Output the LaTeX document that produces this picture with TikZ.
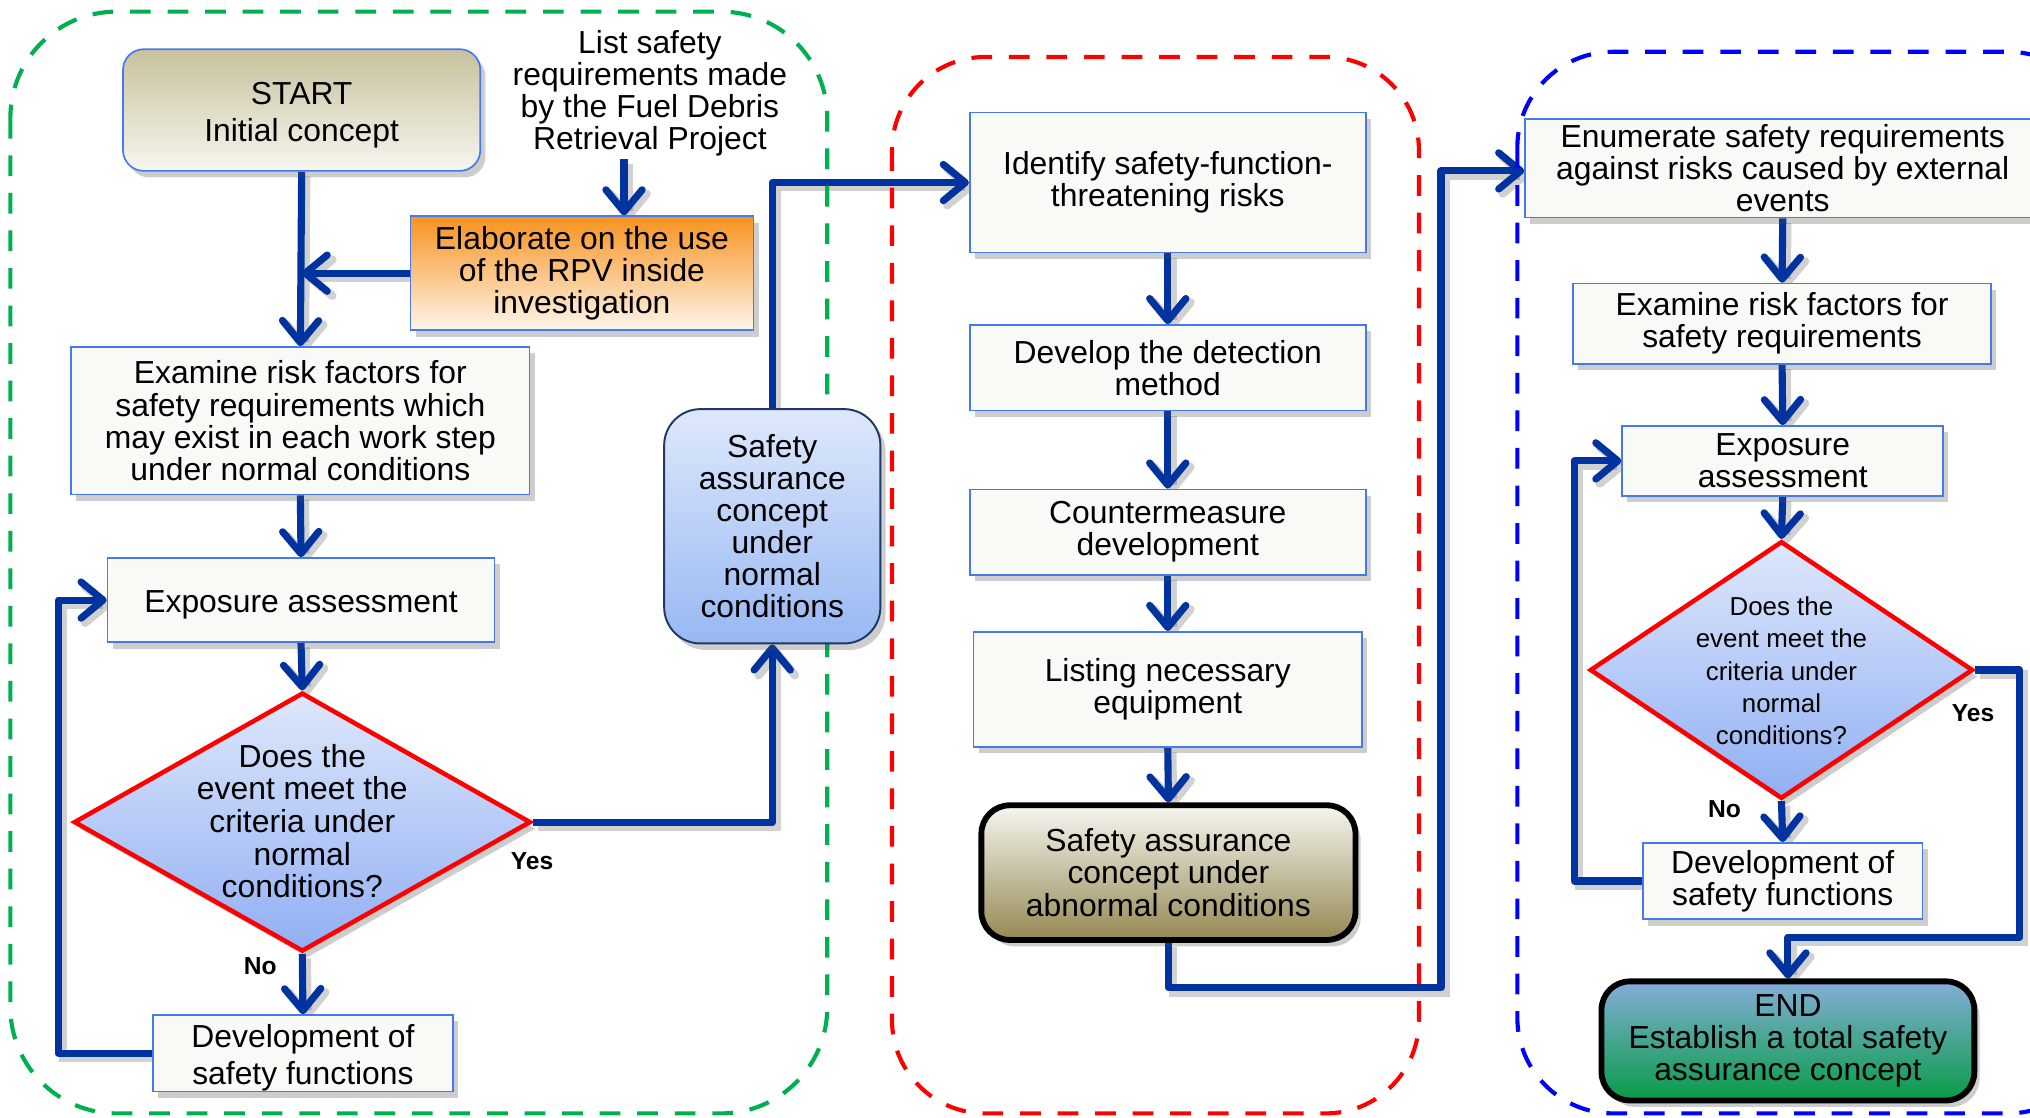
\documentclass[tikz,border=0pt]{standalone}
\usepackage{fontspec}
\setmainfont{Liberation Sans}
\usetikzlibrary{arrows.meta,shapes.geometric,shadows,calc}

\definecolor{flow}{RGB}{0,51,160}
\definecolor{edge}{RGB}{70,120,240}
\definecolor{paper}{RGB}{249,249,246}
\definecolor{tanTop}{RGB}{199,193,157}
\definecolor{tanBot}{RGB}{247,246,240}
\definecolor{orTop}{RGB}{247,146,30}
\definecolor{orBot}{RGB}{255,246,236}
\definecolor{skyTop}{RGB}{222,232,251}
\definecolor{skyBot}{RGB}{152,184,243}
\definecolor{navy}{RGB}{31,56,100}
\definecolor{oliveTop}{RGB}{246,246,241}
\definecolor{oliveBot}{RGB}{148,136,82}
\definecolor{endTop}{RGB}{132,174,217}
\definecolor{endBot}{RGB}{8,155,70}
\definecolor{zgreen}{RGB}{0,176,80}
\definecolor{zred}{RGB}{255,0,0}
\definecolor{zblue}{RGB}{0,0,255}

\pgfdeclarelayer{canvas}
\pgfdeclarelayer{links}
\pgfdeclarelayer{zones}
\pgfsetlayers{canvas,links,zones,main}

% centred text block of zero size, lowered by #1
\newcommand\diatext[2]{\smash{\makebox[0pt]{\raisebox{#1}{\begin{tabular}{@{}c@{}}#2\end{tabular}}}}}
% a line lowered by #1 that keeps its natural height and depth
\newcommand\low[2]{\raisebox{#1}[\height][\depth]{#2}}

\tikzset{
  zone/.style={line width=3.2pt, dash pattern=on 16pt off 13pt},
  base/.style={font=\fontsize{24.6pt}{24.8pt}\selectfont, align=center, inner sep=0pt},
  shadowed/.style={drop shadow={shadow xshift=4pt, shadow yshift=-5pt, opacity=0.28, fill=black!70}},
  plainbox/.style={base, shadowed, rectangle, draw=edge, line width=1.3pt, fill=paper},
  startbox/.style={base, shadowed, rectangle, rounded corners=16pt, draw=edge, line width=1.3pt, top color=tanTop, bottom color=tanBot},
  orangebox/.style={base, shadowed, rectangle, draw=edge, line width=1.3pt, top color=orTop, bottom color=orBot},
  normalbox/.style={base, shadowed, rectangle, rounded corners=28pt, draw=navy, line width=1.5pt, top color=skyTop, bottom color=skyBot},
  dia/.style={base, shadowed, diamond, draw=zred, line width=3.5pt, top color=skyTop, bottom color=skyBot!95!blue},
  olivebox/.style={base, shadowed, rectangle, rounded corners=22pt, draw=black, line width=4.5pt, top color=oliveTop, bottom color=oliveBot},
  endbox/.style={base, shadowed, rectangle, rounded corners=22pt, draw=black, line width=4.5pt, top color=endTop, bottom color=endBot},
  lab/.style={font=\bfseries\fontsize{19pt}{20pt}\selectfont, inner sep=0pt},
  conn/.style={draw=flow, line width=5.5pt, line join=round,
    -{Straight Barb[length=17pt,width=28pt,round]},
    preaction={draw=black, opacity=0.18, line width=6.5pt, transform canvas={shift={(3.5pt,-3.5pt)}}}},
}

\begin{document}
\begin{tikzpicture}[x=1pt,y=-1pt]
\useasboundingbox (0,0) rectangle (1568,863);
\clip (0,0) rectangle (1568,863);
\begin{pgfonlayer}{canvas}
  \fill[white] (0,0) rectangle (1568,863);
\end{pgfonlayer}

% ---------- normal conditions ----------
\node[startbox, minimum width=276pt, minimum height=94pt] (start) at (233,85) {\low{-4pt}{START}\\[4pt]\low{-4pt}{Initial concept}};
\node[base, inner sep=2pt] (req) at (502,72) {List safety\\requirements made\\by the Fuel Debris\\Retrieval Project};
\node[orangebox, minimum width=265pt, minimum height=88pt] (elab) at (449.5,211) {Elaborate on the use\\of the RPV inside\\investigation};
\node[plainbox, minimum width=354pt, minimum height=114pt] (examL) at (232,325) {Examine risk factors for\\safety requirements which\\may exist in each work step\\under normal conditions};
\node[plainbox, minimum width=299pt, minimum height=65pt] (expoL) at (232.5,463.5) {\low{-4pt}{Exposure assessment}};
\node[dia, minimum width=353pt, minimum height=200pt] (diaL) at (233.5,635) {\diatext{-9pt}{Does the\\event meet the\\criteria under\\normal\\conditions?}};
\node[plainbox, minimum width=232pt, minimum height=59pt] (devL) at (234,813.5) {\low{-3.5pt}{Development of}\\[4pt]\low{-3.5pt}{safety functions}};
\node[normalbox, minimum width=167pt, minimum height=181pt] (safeN) at (596.5,406.5) {Safety\\assurance\\concept\\under\\normal\\conditions};
\node[lab] (yesL) at (411,665) {Yes};
\node[lab] (noL) at (201,746) {No};

% ---------- abnormal conditions ----------
\node[plainbox, minimum width=306pt, minimum height=108pt] (ident) at (902,141) {Identify safety-function-\\threatening risks};
\node[plainbox, minimum width=306pt, minimum height=66pt] (detect) at (902,284) {Develop the detection\\method};
\node[plainbox, minimum width=306pt, minimum height=66pt] (counter) at (902,411) {Countermeasure\\development};
\node[plainbox, minimum width=300pt, minimum height=89pt] (equip) at (902,532.5) {Listing necessary\\equipment};
\node[olivebox, minimum width=289pt, minimum height=104pt] (abn) at (902.5,674) {Safety assurance\\concept under\\abnormal conditions};

% ---------- external events ----------
\node[plainbox, minimum width=398pt, minimum height=76pt] (enum) at (1377,130) {Enumerate safety requirements\\against risks caused by external\\events};
\node[plainbox, minimum width=323pt, minimum height=62pt] (examR) at (1376.5,250) {Examine risk factors for\\safety requirements};
\node[plainbox, minimum width=248pt, minimum height=54pt] (expoR) at (1377,356) {Exposure\\assessment};
\node[dia, minimum width=296pt, minimum height=199pt] (diaR) at (1376,517.5) {\diatext{-9pt}{\fontsize{20pt}{24.7pt}\selectfont Does the\\\fontsize{20pt}{24.7pt}\selectfont event meet the\\\fontsize{20pt}{24.7pt}\selectfont criteria under\\\fontsize{20pt}{24.7pt}\selectfont normal\\\fontsize{20pt}{24.7pt}\selectfont conditions?}};
\node[plainbox, minimum width=216pt, minimum height=59pt] (devR) at (1377,680.5) {Development of\\safety functions};
\node[endbox, minimum width=288pt, minimum height=92pt] (fin) at (1381,804) {END\\Establish a total safety\\assurance concept};
\node[lab] (yesR) at (1524,551) {Yes};
\node[lab] (noR) at (1332,625) {No};

% turning points of the connectors
\coordinate (reqfoot) at (482,123);
\coordinate (loopL) at (45,813);
\coordinate (bend) at (1113,763);
\coordinate (loopR) at (1216,680);
\coordinate (yesturn) at (1560,724);

% ---------- dashed zones ----------
\begin{pgfonlayer}{zones}
  \draw[zone, draw=zgreen, rounded corners=82pt] (8,9) rectangle (639,860);
  \draw[zone, draw=zred, rounded corners=72pt] (689,44) rectangle (1096,860);
  \draw[zone, draw=zblue, rounded corners=74pt] (1172,40) rectangle (1625,860);
\end{pgfonlayer}

% ---------- connectors ----------
\begin{pgfonlayer}{links}
  \draw[conn] (start.south) -- (examL.north);
  \draw[conn] (reqfoot) -- (reqfoot |- elab.north);
  \draw[conn] (elab.west) -- (elab.west -| start.south);
  \draw[conn] (examL.south) -- (expoL.north);
  \draw[conn] (expoL.south) -- (diaL.north);
  \draw[conn] (diaL.south) -- (devL.north);
  \draw[conn] (devL.west) -- (devL.west -| loopL) -- (loopL |- expoL.west) -- (expoL.west);
  \draw[conn] (diaL.east) -- (diaL.east -| safeN.south) -- (safeN.south);
  \draw[conn] (safeN.north) -- (safeN.north |- ident.west) -- (ident.west);

  \draw[conn] (ident.south) -- (detect.north);
  \draw[conn] (detect.south) -- (counter.north);
  \draw[conn] (counter.south) -- (equip.north);
  \draw[conn] (equip.south) -- (abn.north);
  \draw[conn] (abn.south) |- (bend) -- ([yshift=-2pt]bend |- enum.west) -- ([yshift=-2pt]enum.west);

  \draw[conn] (enum.south) -- (examR.north);
  \draw[conn] (examR.south) -- (expoR.north);
  \draw[conn] (expoR.south) -- (diaR.north);
  \draw[conn] (diaR.south) -- (devR.north);
  \draw[conn] (devR.west) -- (devR.west -| loopR) -- (loopR |- expoR.west) -- (expoR.west);
  \draw[conn] (diaR.east) -| (yesturn) -- (yesturn -| fin.north) -- (fin.north);
\end{pgfonlayer}
\end{tikzpicture}
\end{document}
